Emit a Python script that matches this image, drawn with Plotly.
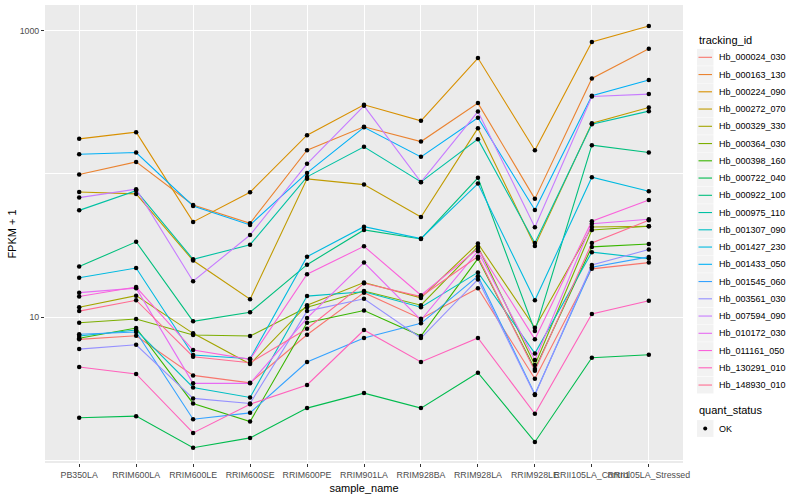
import plotly.graph_objects as go

samples = ["PB350LA", "RRIM600LA", "RRIM600LE", "RRIM600SE", "RRIM600PE", "RRIM901LA",
           "RRIM928BA", "RRIM928LA", "RRIM928LE", "RRII105LA_Control", "RRII105LA_Stressed"]

tracking_ids = ["Hb_000024_030", "Hb_000163_130", "Hb_000224_090", "Hb_000272_070", "Hb_000329_330",
                "Hb_000364_030", "Hb_000398_160", "Hb_000722_040", "Hb_000922_100", "Hb_000975_110",
                "Hb_001307_090", "Hb_001427_230", "Hb_001433_050", "Hb_001545_060", "Hb_003561_030",
                "Hb_007594_090", "Hb_010172_030", "Hb_011161_050", "Hb_130291_010", "Hb_148930_010"]

colors = ["#F8766D", "#EA8331", "#D89000", "#C09B00", "#A3A500", "#7CAE00", "#39B600", "#00BB4E",
          "#00BF7D", "#00C1A3", "#00BFC4", "#00BAE0", "#00B0F6", "#35A2FF", "#9590FF", "#C77CFF",
          "#E76BF3", "#FA62DB", "#FF62BC", "#FF6C91"]

quant_status = ["OK"]

# FPKM + 1 per sample, one list per tracking id
hb_000024_030 = [6.98, 7.40, 3.91, 3.47, 7.52, 14.8, 9.73, 15.9, 3.70, 21.7, 24.0]
hb_000163_130 = [98.9, 121.3, 60.7, 45.2, 146.4, 213.2, 168.2, 312.2, 66.9, 463.8, 748.3]
hb_000224_090 = [175.7, 195.7, 46.2, 74.5, 186.5, 303.8, 234.8, 644.6, 146.4, 833.7, 1078.7]
hb_000272_070 = [74.8, 72.5, 24.8, 13.3, 92.3, 84.2, 50.0, 208.7, 31.4, 226.2, 290.8]
hb_000329_330 = [11.7, 14.1, 7.69, 4.69, 12.1, 17.4, 13.6, 32.6, 8.42, 42.6, 43.1]
hb_000364_030 = [9.12, 9.68, 7.48, 7.36, 11.7, 15.2, 12.1, 31.0, 4.62, 40.6, 43.1]
hb_000398_160 = [7.10, 8.38, 2.49, 1.86, 9.12, 11.1, 7.36, 25.6, 4.33, 30.9, 32.4]
hb_000722_040 = [1.98, 2.03, 1.22, 1.43, 2.31, 2.94, 2.31, 4.08, 1.34, 5.19, 5.45]
hb_000922_100 = [22.5, 33.5, 9.33, 10.8, 23.2, 40.6, 35.1, 93.8, 7.98, 158.7, 140.9]
hb_000975_110 = [55.6, 76.4, 25.3, 32.0, 95.3, 154.5, 87.9, 174.8, 32.9, 222.6, 274.4]
hb_001307_090 = [7.36, 8.11, 3.22, 2.74, 14.0, 15.0, 11.7, 20.5, 5.57, 28.4, 25.6]
hb_001427_230 = [18.8, 22.0, 5.42, 5.11, 26.4, 42.8, 35.3, 85.5, 13.1, 94.8, 75.7]
hb_001433_050 = [137.3, 140.9, 59.7, 44.0, 101.6, 211.5, 131.5, 246.4, 56.0, 351.2, 452.2]
hb_001545_060 = [7.57, 7.85, 1.93, 2.14, 4.85, 7.13, 9.03, 19.3, 2.89, 22.3, 26.3]
hb_003561_030 = [5.97, 6.40, 2.70, 2.49, 11.0, 13.4, 7.13, 18.3, 2.85, 23.1, 29.6]
hb_007594_090 = [68.3, 78.2, 17.8, 37.4, 117.5, 299.0, 87.5, 272.7, 42.4, 347.3, 360.9]
hb_010172_030 = [14.8, 15.9, 3.44, 3.44, 9.84, 24.0, 9.53, 28.8, 5.00, 44.9, 48.2]
hb_011161_050 = [13.9, 16.2, 5.88, 5.06, 19.9, 31.2, 14.2, 30.0, 6.98, 46.7, 65.8]
hb_130291_010 = [4.47, 4.00, 1.55, 2.46, 3.35, 8.11, 4.85, 7.13, 2.11, 10.5, 13.0]
hb_148930_010 = [11.0, 13.1, 5.28, 4.79, 8.28, 17.2, 13.9, 26.4, 4.21, 32.9, 47.5]

series = [hb_000024_030, hb_000163_130, hb_000224_090, hb_000272_070, hb_000329_330,
          hb_000364_030, hb_000398_160, hb_000722_040, hb_000922_100, hb_000975_110,
          hb_001307_090, hb_001427_230, hb_001433_050, hb_001545_060, hb_003561_030,
          hb_007594_090, hb_010172_030, hb_011161_050, hb_130291_010, hb_148930_010]

y_ticks = [10, 1000]
y_minor = [1, 100]

W, H = 800, 500
ML, MR, MT, MB = 45, 117, 5, 37
PW, PH = W - ML - MR, H - MT - MB


def px_x(px):
    return (px - ML) / PW


def px_y(py):
    return (H - MB - py) / PH


fig = go.Figure()

for name, col, vals in zip(tracking_ids, colors, series):
    fig.add_trace(go.Scatter(
        x=samples, y=vals, mode="lines", name=name,
        line=dict(color=col, width=1.1),
        showlegend=False, hoverinfo="skip"))

all_x = [s for vals in series for s in samples]
all_y = [v for vals in series for v in vals]
fig.add_trace(go.Scatter(
    x=all_x, y=all_y, mode="markers", name=quant_status[0],
    marker=dict(color="black", size=4.5), showlegend=False))

font_family = "Liberation Sans, Arial, sans-serif"

# ggplot-style legend drawn in paper coordinates
shapes = []
annotations = []
annotations.append(dict(text="tracking_id", x=px_x(697), y=px_y(40), xref="paper", yref="paper",
                        xanchor="left", yanchor="middle", showarrow=False,
                        font=dict(size=11, color="#000000")))
step = 17.25
for i, (name, col) in enumerate(zip(tracking_ids, colors)):
    cy = 57.3 + step * i
    shapes.append(dict(type="rect", xref="paper", yref="paper",
                       x0=px_x(697), x1=px_x(713.5), y0=px_y(cy - 8.4), y1=px_y(cy + 8.4),
                       fillcolor="#F2F2F2", line=dict(width=0)))
    shapes.append(dict(type="line", xref="paper", yref="paper",
                       x0=px_x(698.5), x1=px_x(712), y0=px_y(cy), y1=px_y(cy),
                       line=dict(color=col, width=1.1)))
    annotations.append(dict(text=name, x=px_x(716.5), y=px_y(cy), xref="paper", yref="paper",
                            xanchor="left", yanchor="middle", showarrow=False,
                            font=dict(size=9, color="#000000")))

annotations.append(dict(text="quant_status", x=px_x(697), y=px_y(410), xref="paper", yref="paper",
                        xanchor="left", yanchor="middle", showarrow=False,
                        font=dict(size=11, color="#000000")))
ok_y = 428.5
shapes.append(dict(type="rect", xref="paper", yref="paper",
                   x0=px_x(697), x1=px_x(713.5), y0=px_y(ok_y - 8.4), y1=px_y(ok_y + 8.4),
                   fillcolor="#F2F2F2", line=dict(width=0)))
shapes.append(dict(type="circle", xref="paper", yref="paper",
                   x0=px_x(703.2), x1=px_x(707.2), y0=px_y(ok_y + 2), y1=px_y(ok_y - 2),
                   fillcolor="black", line=dict(width=0)))
annotations.append(dict(text=quant_status[0], x=px_x(716.5), y=px_y(ok_y), xref="paper", yref="paper",
                        xanchor="left", yanchor="middle", showarrow=False,
                        font=dict(size=9, color="#000000")))

fig.update_layout(
    width=W, height=H,
    margin=dict(l=ML, r=MR, t=MT, b=MB),
    paper_bgcolor="white",
    plot_bgcolor="#EBEBEB",
    font=dict(family=font_family, size=9, color="#4D4D4D"),
    showlegend=False,
    shapes=shapes,
    annotations=annotations,
    xaxis=dict(
        type="category",
        categoryorder="array", categoryarray=samples,
        range=[-0.6, len(samples) - 0.4],
        showgrid=True, gridcolor="white", gridwidth=1.1,
        zeroline=False, showline=False, automargin=False,
        ticks="outside", ticklen=3, tickcolor="#333333", tickwidth=1,
        tickfont=dict(size=8.8, color="#4D4D4D"),
        tickangle=0,
        title=dict(text="sample_name", font=dict(size=11, color="#000000"), standoff=5)),
    yaxis=dict(
        type="log",
        range=[-0.02, 3.18],
        tickvals=y_ticks, ticktext=[str(v) for v in y_ticks],
        showgrid=True, gridcolor="white", gridwidth=1.1,
        minor=dict(tickvals=y_minor, showgrid=True, gridcolor="white", gridwidth=0.5, ticklen=0),
        zeroline=False, showline=False, automargin=False,
        ticks="outside", ticklen=3, tickcolor="#333333", tickwidth=1,
        tickfont=dict(size=8.8, color="#4D4D4D"),
        title=dict(text="FPKM + 1", font=dict(size=11, color="#000000"), standoff=0)),
)

# place the 800x500 figure at the page's top-left corner (no default body margin), no modebar
fig.write_html("out.html", config={"displayModeBar": False},
               post_script="document.body.style.margin='0px';")
